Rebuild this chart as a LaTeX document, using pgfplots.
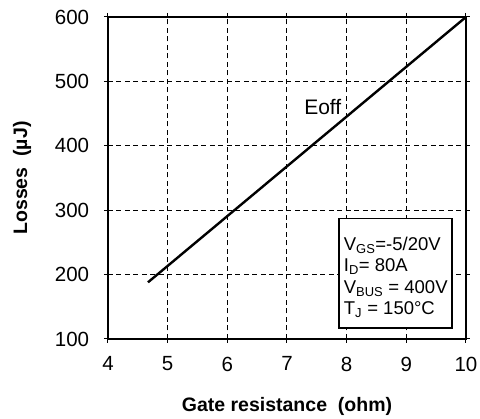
\documentclass[border=0pt]{standalone}
\usepackage{pgfplots}
\pgfplotsset{compat=1.18}
\usepackage{fontspec}
\setmainfont{Liberation Sans}
\begin{document}
\fontsize{20}{24}\selectfont
\begin{tikzpicture}
\begin{axis}[
  scale only axis,
  width=358pt, height=322pt,
  xmin=4, xmax=10, ymin=100, ymax=600,
  xtick={4,5,...,10}, ytick={100,200,...,600},
  /pgf/number format/assume math mode=true,
  tick label style={font=\fontsize{20.5}{24}\selectfont},
  xticklabel style={yshift=-7pt},
  yticklabel style={xshift=-8pt},
  grid=major,
  major grid style={black, line width=1pt, dash pattern=on 5pt off 3.5pt},
  axis line style={black, line width=2.6pt},
  tick style={black, line width=1pt},
  tick align=outside,
  major tick length=4pt,
  xlabel={\bfseries Gate resistance\ \ (ohm)},
  ylabel={\bfseries Losses\ \ (µJ)},
  label style={font=\fontsize{19.5}{24}\selectfont},
  xlabel style={at={(axis description cs:0.5,-0.21)}, anchor=center},
  ylabel style={at={(axis description cs:-0.24,0.5)}, anchor=center},
  clip=false,
]
\addplot[black, line width=2.4pt] coordinates {(4.67,188) (10,600)};
\node[font=\fontsize{21}{24}\selectfont] at (axis cs:7.6,460) {Eoff};
\draw[black, line width=1.8pt, fill=white] (axis cs:7.87,117) rectangle (axis cs:9.77,287);
\node[anchor=north west, align=left, inner sep=0pt, font=\fontsize{18.5}{21.5}\selectfont] at (axis cs:7.95,259) {V\textsubscript{GS}=-5/20V\\I\textsubscript{D}= 80A\\V\textsubscript{BUS} = 400V\\T\textsubscript{J} = 150°C};
\end{axis}
\pgfresetboundingbox
\path (current axis.south west) ++(-108pt,-80pt) rectangle ++(480pt,419pt);
\end{tikzpicture}
\end{document}
